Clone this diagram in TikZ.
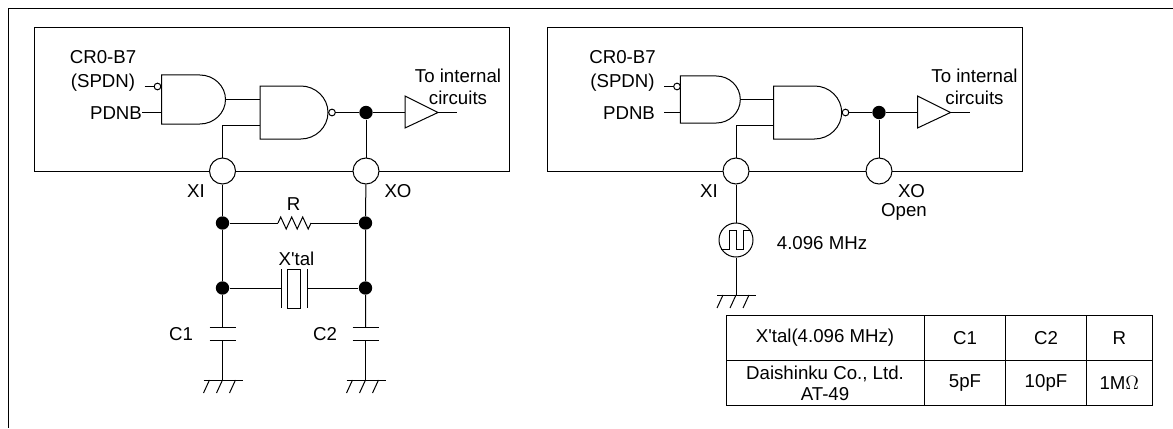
\documentclass[tikz,border=0pt]{standalone}
\usepackage{fontspec}
\newfontfamily\labelfont{Liberation Sans}
\tikzset{
	lbl/.style={inner sep=0, align=center, font=\labelfont\fontsize{14}{16.5}\selectfont},
	chipbox/.style={draw, inner sep=0, minimum width=356.25pt, minimum height=107.25pt},
	pin/.style={circle, draw, fill=white, inner sep=0, minimum size=19.5pt},
	dot/.style={circle, fill=black, inner sep=0, minimum size=10pt},
	inv/.style={circle, draw, fill=white, inner sep=0, minimum size=5pt},
	cell/.style={draw, inner sep=0, align=center, minimum height=34pt, font=\labelfont\fontsize{14}{16}\selectfont},
	pics/gatebody/.style 2 args={code={
		\draw (0,{-#2}) -- ({#1*0.6},{-#2}) .. controls ({#1*0.82},{-#2}) and (#1,{-0.55*#2}) .. (#1,0)
			.. controls (#1,{0.55*#2}) and ({#1*0.82},#2) .. ({#1*0.6},#2) -- (0,#2) -- cycle;
		\coordinate (-in1) at (0,-13);
		\coordinate (-in2) at (0,13);
		\coordinate (-out) at (#1,0);
	}},
	pics/gnd/.style={code={
		\draw (-19,0) -- (20,0);
		\foreach \x in {-13,0,13} \draw (\x,0) -- ++(-6,13);
	}},
	pics/capplates/.style={code={
		\draw (-13,0) -- (13,0);
		\draw (-13,13) -- (13,13);
	}}
}
\begin{document}
\begin{tikzpicture}[x=0.75pt, y=-0.75pt, line width=0.75pt]
	\useasboundingbox (0,0) rectangle (1173,428);
	% frame
	\coordinate (F1) at (1173, 8.5);
	\coordinate (F2) at (8.5, 8.5);
	\coordinate (F3) at (8.5, 428);
	\draw[line width=1.1pt] (F1) -- (F2) -- (F3);

	% left circuit
	\node (BoxA) at (271.5, 99.5)	[chipbox] {};
	\pic (AndA) at (161.5, 99.5)	{gatebody={64}{24.5}};
	\pic (NandA) at (260, 112.5)	{gatebody={68}{26.5}};
	\node (InA) at (157.5, 86.5)	[inv] {};
	\node (OutA) at (332, 112.5)	[inv] {};
	\node (XIa) at (222.5, 171)	[pin] {};
	\node (XOa) at (366, 171)	[pin] {};
	\node (TopA) at (366, 112.5)	[dot] {};
	\coordinate (BufA) at (405, 112.5);
	\coordinate (BufAo) at (438, 112.5);
	\coordinate (EndA) at (457, 112.5);
	\coordinate (SpdnA) at (144.5, 86.5);
	\coordinate (PdnbA) at (142, 112.5);
	\draw (BufA) -- (405, 96) -- (BufAo) -- (405, 128) -- cycle;
	\draw (SpdnA) -- (InA);
	\draw (PdnbA) -- (AndA-in2);
	\draw (AndA-out) -- (NandA-in1);
	\draw (XIa) |- (NandA-in2);
	\draw (OutA) -- (TopA) -- (BufA);
	\draw (BufAo) -- (EndA);
	\draw (TopA) -- (XOa);

	\node (Ra1) at (222.5, 223)	[dot] {};
	\node (Ro1) at (365.5, 223)	[dot] {};
	\node (Xa1) at (222.5, 288)	[dot] {};
	\node (Xo1) at (365.5, 288)	[dot] {};
	\coordinate (Rl) at (278, 223);
	\coordinate (Rr) at (311, 223);
	\coordinate (Xl) at (281, 288);
	\coordinate (Xr) at (307, 288);
	\coordinate (CaT) at (222.5, 327.5);
	\coordinate (CaB) at (222.5, 340.5);
	\coordinate (CoT) at (365.5, 327.5);
	\coordinate (CoB) at (365.5, 340.5);
	\coordinate (GaA) at (222.5, 380);
	\coordinate (GoA) at (365.5, 380);
	\draw (XIa) -- (Ra1) -- (Xa1) -- (CaT);
	\draw (XOa) -- (Ro1) -- (Xo1) -- (CoT);
	\draw (CaB) -- (GaA);
	\draw (CoB) -- (GoA);
	\draw (Ra1) -- (Rl);
	\draw (Rr) -- (Ro1);
	\draw (Rl) -- ++(2.7,-6) -- ++(5.5,12) -- ++(5.5,-12) -- ++(5.5,12) -- ++(5.5,-12) -- ++(5.5,12) -- (Rr);
	\draw (Xa1) -- (Xl);
	\draw (Xr) -- (Xo1);
	\draw (281, 269) -- (281, 308);
	\draw (307, 269) -- (307, 308);
	\draw (287.5, 269) rectangle (300.5, 308);
	\pic at (CaT) {capplates};
	\pic at (CoT) {capplates};
	\pic at (GaA) {gnd};
	\pic at (GoA) {gnd};

	\node (CrA) at (103, 71)	[lbl] {CR0-B7\\[1.5pt](SPDN)};
	\node (PdA) at (116, 113)	[lbl] {PDNB};
	\node (ToA) at (458, 87)	[lbl] {To internal\\circuits};
	\node (LxiA) at (196, 191)	[lbl] {XI};
	\node (LxoA) at (398, 191)	[lbl] {XO};
	\node (LrA) at (293.5, 204)	[lbl] {R};
	\node (LxA) at (296.5, 259)	[lbl] {X'tal};
	\node (Lc1) at (181, 334)	[lbl] {C1};
	\node (Lc2) at (325, 334)	[lbl] {C2};

	% right circuit
	\node (BoxB) at (784.75, 99.5)	[chipbox] {};
	\pic (AndB) at (680.3, 99.5)	{gatebody={60}{23.5}};
	\pic (NandB) at (773.7, 112.5)	{gatebody={68}{26.5}};
	\node (InB) at (677, 86.5)	[inv] {};
	\node (OutB) at (845.5, 112.5)	[inv] {};
	\node (XIb) at (736, 171)	[pin] {};
	\node (XOb) at (879, 171)	[pin] {};
	\node (TopB) at (879, 112.5)	[dot] {};
	\coordinate (BufB) at (917.5, 112.5);
	\coordinate (BufBo) at (950.5, 112.5);
	\coordinate (EndB) at (970, 112.5);
	\coordinate (SpdnB) at (664, 86.5);
	\coordinate (PdnbB) at (664, 112.5);
	\draw (BufB) -- (917.5, 96) -- (BufBo) -- (917.5, 128) -- cycle;
	\draw (SpdnB) -- (InB);
	\draw (PdnbB) -- (AndB-in2);
	\draw (AndB-out) -- (NandB-in1);
	\draw (XIb) |- (NandB-in2);
	\draw (OutB) -- (TopB) -- (BufB);
	\draw (BufBo) -- (EndB);
	\draw (TopB) -- (XOb);

	\node (Osc) at (736, 240)	[circle, draw, inner sep=0, minimum size=25.5pt] {};
	\coordinate (GaB) at (736, 295);
	\draw (XIb) -- (Osc) -- (GaB);
	\draw (721, 249.3) -- (729.3, 249.3) -- (729.3, 230) -- (736, 230) -- (736, 249.3) -- (743.3, 249.3) -- (743.3, 230) -- (751, 230);
	\pic at (GaB) {gnd};

	\node (CrB) at (622.5, 71)	[lbl] {CR0-B7\\[1.5pt](SPDN)};
	\node (PdB) at (629, 113)	[lbl] {PDNB};
	\node (ToB) at (974.5, 87)	[lbl] {To internal\\circuits};
	\node (LxiB) at (709, 191)	[lbl] {XI};
	\node (LxoB) at (911.5, 191)	[lbl] {XO};
	\node (LoB) at (904, 211.5)	[lbl] {Open};
	\node (LfB) at (822, 243)	[lbl] {4.096 MHz};

	% parts table
	\node (T11) at (825, 337.75)	[cell, minimum width=148.5pt] {X'tal(4.096 MHz)};
	\node (T12) at (965, 337.75)	[cell, minimum width=61pt] {C1};
	\node (T13) at (1046, 337.75)	[cell, minimum width=60.5pt] {C2};
	\node (T14) at (1119.25, 337.75)	[cell, minimum width=49.5pt] {R};
	\node (T21) at (825, 383)	[cell, minimum width=148.5pt] {Daishinku Co., Ltd.\\AT-49};
	\node (T22) at (965, 383)	[cell, minimum width=61pt] {5pF};
	\node (T23) at (1046, 383)	[cell, minimum width=60.5pt] {10pF};
	\node (T24) at (1119.25, 383)	[cell, minimum width=49.5pt] {1M$\Omega$};
\end{tikzpicture}
\end{document}
